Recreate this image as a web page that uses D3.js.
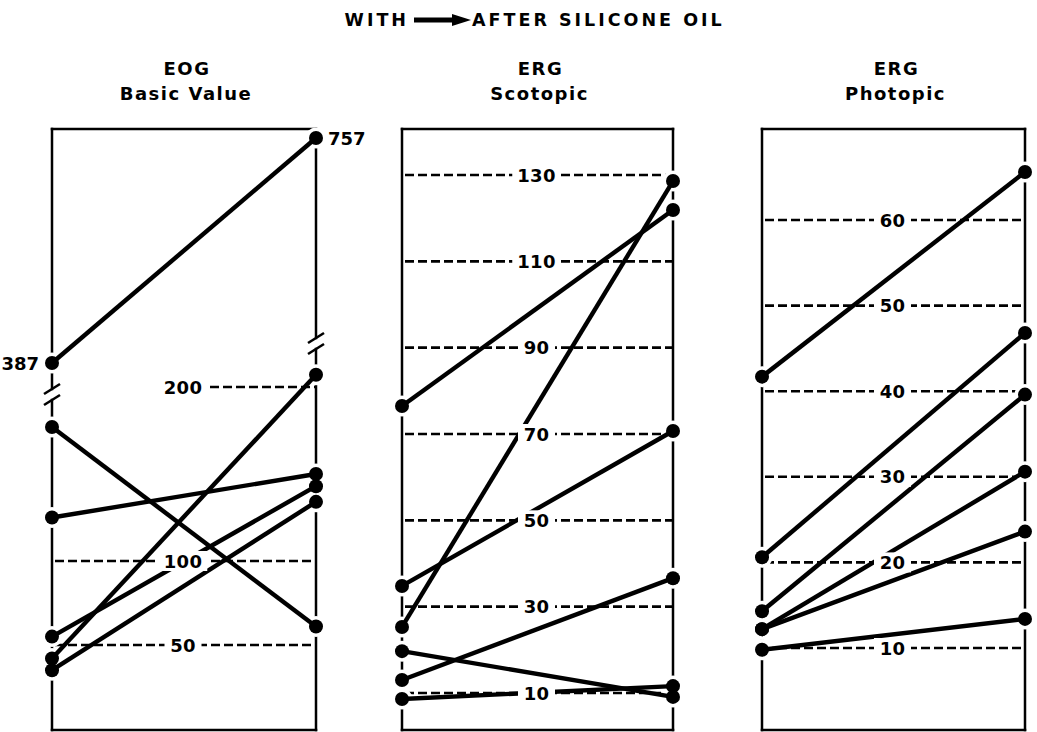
<!DOCTYPE html>
<html>
<head>
<meta charset="utf-8">
<script src="https://cdn.jsdelivr.net/npm/d3@7"></script>
<style>
  body { margin: 0; background: #fff; }
  text { font-family: "DejaVu Sans", sans-serif; font-weight: bold; fill: #000; }
</style>
</head>
<body>
<div id="plot"></div>
<script>
// values: each pair is one eye, "with" -> "after" silicone oil
var eogWith    = [387, 177, 125, 55, 42, 35];
var eogAfter   = [757, 61, 150, 143, 207, 134];
var eogTicks   = [200, 100, 50];

var scotWith   = [76.5, 25.3, 34.8, 13, 19.7, 8.6];
var scotAfter  = [121.9, 128.6, 70.7, 36.6, 9.1, 11.6];
var scotTicks  = [130, 110, 90, 70, 50, 30, 10];

var photWith   = [41.7, 20.6, 14.3, 12.2, 12.2, 9.8];
var photAfter  = [65.6, 46.8, 39.6, 30.6, 23.6, 13.4];
var photTicks  = [60, 50, 40, 30, 20, 10];

var width = 1037, height = 732;
var boxTop = 129, boxBottom = 730;

var svg = d3.select("#plot").append("svg")
  .attr("width", width).attr("height", height);

// title
svg.append("text").attr("x", 409).attr("y", 26)
  .attr("text-anchor", "end").attr("font-size", "17.5px")
  .style("letter-spacing", "3px")
  .text("WITH");
svg.append("line").attr("x1", 414).attr("x2", 456).attr("y1", 20).attr("y2", 20)
  .attr("stroke", "#000").attr("stroke-width", 5);
svg.append("path").attr("d", "M452,14 L471,20 L452,26 Z").attr("fill", "#000");
svg.append("text").attr("x", 472).attr("y", 26)
  .attr("font-size", "17.5px")
  .style("letter-spacing", "3px")
  .text("AFTER SILICONE OIL");

// EOG has a broken axis: low part linear up to 200, top part for the two big values
var eogLow = d3.scaleLinear().domain([0, 50, 100, 200]).range([729, 645, 561, 387]);
var eogHigh = d3.scaleLinear().domain([387, 757]).range([363, 138]);
function eogY(v){ return v > 300 ? eogHigh(v) : eogLow(v); }

var panels = [
  {title: ["EOG", "Basic Value"], x0: 52, x1: 316, y: eogY, before: eogWith, after: eogAfter, ticks: eogTicks, broken: true},
  {title: ["ERG", "Scotopic"], x0: 402, x1: 673,
   y: d3.scaleLinear().domain([10, 130]).range([693, 175]), before: scotWith, after: scotAfter, ticks: scotTicks},
  {title: ["ERG", "Photopic"], x0: 762, x1: 1025,
   y: d3.scaleLinear().domain([10, 60]).range([648, 220]), before: photWith, after: photAfter, ticks: photTicks}
];

panels.forEach(function(p){
  var g = svg.append("g");
  var x = d3.scaleLinear().domain([0, 1]).range([p.x0, p.x1]);
  var cx = (p.x0 + p.x1) / 2;

  g.append("text").attr("x", cx + 3).attr("y", 75).attr("text-anchor", "middle")
    .attr("font-size", "18px").style("letter-spacing", "1.5px").text(p.title[0]);
  g.append("text").attr("x", cx + 2).attr("y", 100).attr("text-anchor", "middle")
    .attr("font-size", "18px").style("letter-spacing", "1.5px").text(p.title[1]);

  // dashed reference lines
  g.selectAll(".grid").data(p.ticks).enter().append("line")
    .attr("class", "grid")
    .attr("x1", function(d){ return (p.broken && d >= 200) ? cx : p.x0 + 3; })
    .attr("x2", p.x1)
    .attr("y1", function(d){ return p.y(d); })
    .attr("y2", function(d){ return p.y(d); })
    .attr("stroke", "#000").attr("stroke-width", 2.6)
    .attr("stroke-dasharray", "9,4");

  // frame
  var frame = [[p.x0, boxTop, p.x1, boxTop], [p.x0, boxBottom, p.x1, boxBottom]];
  if (p.broken) {
    frame.push([p.x0, boxTop, p.x0, 389], [p.x0, 400, p.x0, boxBottom]);
    frame.push([p.x1, boxTop, p.x1, 338], [p.x1, 349, p.x1, boxBottom]);
  } else {
    frame.push([p.x0, boxTop, p.x0, boxBottom], [p.x1, boxTop, p.x1, boxBottom]);
  }
  g.selectAll(".frame").data(frame).enter().append("line")
    .attr("class", "frame")
    .attr("x1", function(d){ return d[0]; }).attr("y1", function(d){ return d[1]; })
    .attr("x2", function(d){ return d[2]; }).attr("y2", function(d){ return d[3]; })
    .attr("stroke", "#000").attr("stroke-width", 2.5)
    .attr("stroke-linecap", "square");

  if (p.broken) {
    var marks = [[p.x0, 389], [p.x0, 400], [p.x1, 338], [p.x1, 349]];
    g.selectAll(".brk").data(marks).enter().append("line")
      .attr("x1", function(d){ return d[0] - 8; }).attr("y1", function(d){ return d[1] + 5; })
      .attr("x2", function(d){ return d[0] + 8; }).attr("y2", function(d){ return d[1] - 5; })
      .attr("stroke", "#000").attr("stroke-width", 2.6);
  }

  var pairs = p.before.map(function(v, i){ return {a: v, b: p.after[i]}; });
  var pts = [];
  pairs.forEach(function(d){ pts.push({x: x(0), y: p.y(d.a)}, {x: x(1), y: p.y(d.b)}); });

  // white halos cut the frame round each dot
  g.selectAll(".halo").data(pts).enter().append("circle")
    .attr("cx", function(d){ return d.x; }).attr("cy", function(d){ return d.y; })
    .attr("r", 10.5).attr("fill", "#fff");

  g.selectAll(".pair").data(pairs).enter().append("line")
    .attr("x1", x(0)).attr("x2", x(1))
    .attr("y1", function(d){ return p.y(d.a); })
    .attr("y2", function(d){ return p.y(d.b); })
    .attr("stroke", "#000").attr("stroke-width", 4.4);

  // tick labels knock a gap out of the lines under them
  g.selectAll(".knock").data(p.ticks).enter().append("rect")
    .attr("class", "knock")
    .attr("x", function(d){ var w = String(d).length * 11.5 + 14; return cx - 1 - w / 2; })
    .attr("y", function(d){ return p.y(d) - 10; })
    .attr("width", function(d){ return String(d).length * 11.5 + 14; })
    .attr("height", 20)
    .attr("fill", "#fff");
  g.selectAll(".lab").data(p.ticks).enter().append("text")
    .attr("class", "lab")
    .attr("x", cx - 1)
    .attr("y", function(d){ return p.y(d); })
    .attr("text-anchor", "middle").attr("dy", "0.37em")
    .attr("font-size", "18px").style("letter-spacing", "0.3px")
    .text(function(d){ return d; });

  g.selectAll(".dot").data(pts).enter().append("circle")
    .attr("cx", function(d){ return d.x; }).attr("cy", function(d){ return d.y; })
    .attr("r", 7).attr("fill", "#000");

  if (p.broken) {
    g.append("text").attr("x", 39).attr("y", p.y(p.before[0])).attr("dy", "0.37em")
      .attr("text-anchor", "end").attr("font-size", "18px").text(p.before[0]);
    g.append("text").attr("x", 328).attr("y", p.y(p.after[0])).attr("dy", "0.37em")
      .attr("font-size", "18px").text(p.after[0]);
  }
});
</script>
</body>
</html>
